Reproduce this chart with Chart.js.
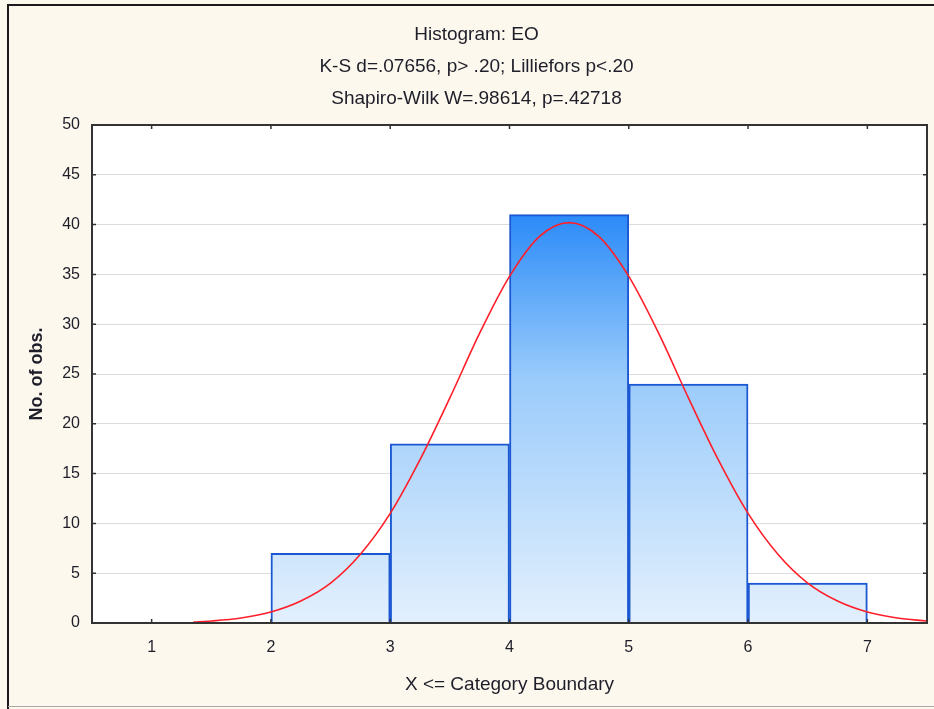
<!DOCTYPE html>
<html>
<head>
<meta charset="utf-8">
<script src="https://cdn.jsdelivr.net/npm/chart.js@4.4.0/dist/chart.umd.min.js"></script>
<style>
  html, body { margin: 0; padding: 0; background: #fdf8ed; }
  #wrap { width: 934px; height: 709px; position: relative; }
</style>
</head>
<body>
<div id="wrap"><canvas id="c" width="934" height="709"></canvas></div>
<script>
// ---- data ----
const titleLines = ['Histogram: EO', 'K-S d=.07656, p> .20; Lilliefors p<.20', 'Shapiro-Wilk W=.98614, p=.42718'];
const xAxisTitle = 'X <= Category Boundary';
const yAxisTitle = 'No. of obs.';
const binLower = [2, 3, 4, 5, 6];
const binUpper = [3, 4, 5, 6, 7];
const binCounts = [7, 18, 41, 24, 4];
const xTickValues = [1, 2, 3, 4, 5, 6, 7];
const curveX = [1.35, 1.5, 1.75, 2, 2.25, 2.5, 2.75, 3, 3.25, 3.5, 3.75, 4, 4.25, 4.5, 4.75, 5, 5.25, 5.5, 5.75, 6, 6.25, 6.5, 6.75, 7, 7.25, 7.5];
const curveY = [0.1, 0.2, 0.5, 1.1, 2.2, 4.0, 6.9, 11.0, 16.4, 22.6, 29.1, 34.8, 38.8, 40.2, 38.8, 34.8, 29.1, 22.6, 16.4, 11.0, 6.9, 4.0, 2.2, 1.1, 0.5, 0.2];

const FONT = "'Liberation Sans', Arial, sans-serif";
const TXT = '#1e1e2a';

const barData = binLower.map((lo, i) => ({ x: (lo + binUpper[i]) / 2, y: binCounts[i] }));
const lineData = curveX.map((x, i) => ({ x: x, y: curveY[i] }));

function barGradient(ctx) {
  const chart = ctx.chart;
  const area = chart.chartArea;
  if (!area) return '#8fc4fa';
  const y = chart.scales.y;
  const top = y.getPixelForValue(Math.max(...binCounts));
  const bot = y.getPixelForValue(0);
  const g = chart.ctx.createLinearGradient(0, top, 0, bot);
  g.addColorStop(0, '#2b8bf8');
  g.addColorStop(0.4, '#9acbfb');
  g.addColorStop(1, '#e3f0fd');
  return g;
}

const framePlugin = {
  id: 'frame',
  beforeDraw(chart) {
    const c = chart.ctx;
    const a = chart.chartArea;
    c.save();
    c.fillStyle = '#fdf8ed';
    c.fillRect(0, 0, chart.width, chart.height);
    c.fillStyle = '#ffffff';
    c.fillRect(a.left, a.top, a.right - a.left, a.bottom - a.top);
    // outer frame
    c.strokeStyle = '#1a1a1a';
    c.lineWidth = 2;
    c.beginPath();
    c.moveTo(8, chart.height);
    c.lineTo(8, 5);
    c.lineTo(chart.width, 5);
    c.stroke();
    c.strokeStyle = '#a8a8a8';
    c.lineWidth = 1;
    c.beginPath();
    c.moveTo(8, chart.height - 2.5);
    c.lineTo(chart.width, chart.height - 2.5);
    c.stroke();
    c.restore();
  },
  afterDraw(chart) {
    const c = chart.ctx;
    const a = chart.chartArea;
    const xs = chart.scales.x, ys = chart.scales.y;
    c.save();
    c.strokeStyle = '#333333';
    c.lineWidth = 2;
    c.strokeRect(a.left, a.top, a.right - a.left, a.bottom - a.top);
    // small inward tick marks on all four sides
    c.lineWidth = 1.5;
    c.beginPath();
    xs.ticks.forEach(t => {
      const px = xs.getPixelForValue(t.value);
      c.moveTo(px, a.bottom); c.lineTo(px, a.bottom - 4);
      c.moveTo(px, a.top); c.lineTo(px, a.top + 4);
    });
    ys.ticks.forEach(t => {
      const py = ys.getPixelForValue(t.value);
      c.moveTo(a.left, py); c.lineTo(a.left + 4, py);
      c.moveTo(a.right, py); c.lineTo(a.right - 4, py);
    });
    c.stroke();
    c.restore();
  }
};

new Chart(document.getElementById('c'), {
  data: {
    datasets: [
      {
        type: 'line',
        data: lineData,
        borderColor: '#ff1f2a',
        borderWidth: 1.6,
        pointRadius: 0,
        fill: false,
        cubicInterpolationMode: 'monotone',
        order: 0
      },
      {
        type: 'bar',
        data: barData,
        backgroundColor: barGradient,
        borderColor: '#1d58d3',
        borderWidth: 2,
        borderSkipped: 'bottom',
        barPercentage: 1,
        categoryPercentage: 1,
        order: 1
      }
    ]
  },
  options: {
    responsive: false,
    animation: false,
    events: [],
    layout: { padding: { left: 26, right: 7, top: 0, bottom: 0 } },
    plugins: {
      legend: { display: false },
      tooltip: { enabled: false },
      title: {
        display: true,
        text: titleLines,
        color: TXT,
        font: { family: FONT, size: 19, weight: 'normal', lineHeight: 32 / 19 },
        padding: { top: 19, bottom: 10 }
      }
    },
    scales: {
      x: {
        type: 'linear',
        position: 'bottom',
        min: 0.5,
        max: 7.5,
        offset: false,
        afterBuildTicks: (s) => { s.ticks = xTickValues.map(v => ({ value: v })); },
        afterFit: (s) => { s.height = 86; },
        grid: { display: false, drawTicks: false, offset: false },
        border: { display: true, color: '#333333', width: 2, z: 1 },
        ticks: { color: TXT, font: { family: FONT, size: 16 }, padding: 15, maxRotation: 0 },
        title: { display: true, text: xAxisTitle, color: TXT, font: { family: FONT, size: 19 }, padding: { top: 0, bottom: 13 } }
      },
      y: {
        type: 'linear',
        min: 0,
        max: 50,
        afterFit: (s) => { s.width = 66; },
        grid: { color: '#dcdcdc', lineWidth: 1, drawTicks: false },
        border: { display: true, color: '#333333', width: 2, z: 1 },
        ticks: { stepSize: 5, color: TXT, font: { family: FONT, size: 16 }, padding: 12 },
        title: { display: true, text: yAxisTitle, color: TXT, font: { family: FONT, size: 18, weight: 'bold' }, padding: { top: 0, bottom: 0 } }
      }
    }
  },
  plugins: [framePlugin]
});
</script>
</body>
</html>
